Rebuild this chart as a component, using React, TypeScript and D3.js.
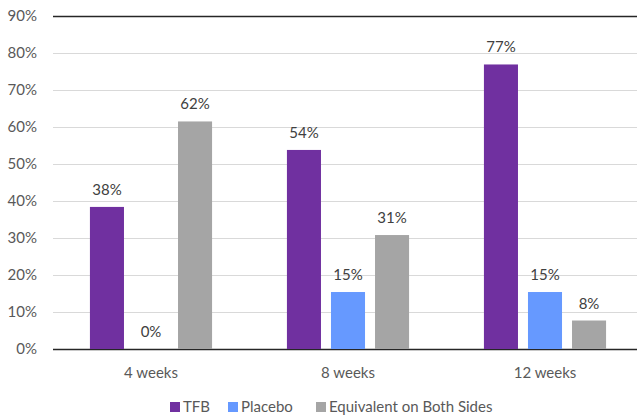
import React, { useEffect, useRef } from 'react';
import * as d3 from 'd3';

const categories = ['4 weeks', '8 weeks', '12 weeks'];
const seriesNames = ['TFB', 'Placebo', 'Equivalent on Both Sides'];
const seriesColors = ['#7030A0', '#6699FF', '#A5A5A5'];
const tfb = [38.4, 53.8, 76.9];
const placebo = [0, 15.4, 15.4];
const equivalent = [61.5, 30.8, 7.7];
const yTicks = [0, 10, 20, 30, 40, 50, 60, 70, 80, 90];

const W = 637;
const H = 418;
const FONT = 'Lato, "Open Sans", sans-serif';
const FS = 15;

const App: React.FC = () => {
  const svgRef = useRef<SVGSVGElement>(null);

  useEffect(() => {
    if (!svgRef.current) return;
    const svg = d3.select(svgRef.current);
    svg.selectAll('*').remove();

    const left = 52.5, right = 643.5, top = 16, bottom = 349;
    const series = [tfb, placebo, equivalent];

    const x0 = d3.scaleBand<string>().domain(categories).range([left, right]).paddingInner(0.38).paddingOuter(0.19);
    const x1 = d3.scaleBand<string>().domain(seriesNames).range([0, x0.bandwidth()]).paddingInner(0.227);
    const y = d3.scaleLinear().domain([0, 90]).range([bottom, top]);

    // grid
    svg.append('g')
      .selectAll('line')
      .data(yTicks)
      .join('line')
      .attr('x1', 53).attr('x2', W)
      .attr('y1', d => Math.round(y(d)) + 0.5).attr('y2', d => Math.round(y(d)) + 0.5)
      .attr('stroke', d => (d === 0 || d === 90) ? '#262626' : '#D9D9D9')
      .attr('stroke-width', d => (d === 0 || d === 90) ? 1.3 : 1);

    // y labels
    svg.append('g')
      .selectAll('text')
      .data(yTicks)
      .join('text')
      .attr('x', 37)
      .attr('y', d => y(d))
      .attr('dy', '0.35em')
      .attr('text-anchor', 'end')
      .attr('font-family', FONT)
      .attr('font-size', FS)
      .attr('fill', '#595959')
      .text(d => `${d}%`);

    // bars
    series.forEach((vals, si) => {
      const g = svg.append('g');
      g.selectAll('rect')
        .data(vals)
        .join('rect')
        .attr('x', (_, i) => x0(categories[i])! + x1(seriesNames[si])!)
        .attr('y', d => y(d))
        .attr('width', x1.bandwidth())
        .attr('height', d => y(0) - y(d))
        .attr('fill', seriesColors[si]);
      g.selectAll('text')
        .data(vals)
        .join('text')
        .attr('x', (_, i) => x0(categories[i])! + x1(seriesNames[si])! + x1.bandwidth() / 2)
        .attr('y', d => y(d) - 12)
        .attr('text-anchor', 'middle')
        .attr('font-family', FONT)
        .attr('font-size', FS)
        .attr('fill', '#404040')
        .text(d => `${Math.round(d)}%`);
    });

    // x labels
    svg.append('g')
      .selectAll('text')
      .data(categories)
      .join('text')
      .attr('x', d => x0(d)! + x0.bandwidth() / 2)
      .attr('y', 378)
      .attr('text-anchor', 'middle')
      .attr('font-family', FONT)
      .attr('font-size', FS)
      .attr('fill', '#595959')
      .text(d => d);

    // legend
    const legendX = [170, 228, 316];
    const lg = svg.append('g');
    seriesNames.forEach((name, i) => {
      lg.append('rect')
        .attr('x', legendX[i]).attr('y', 402)
        .attr('width', 10).attr('height', 10)
        .attr('fill', seriesColors[i]);
      lg.append('text')
        .attr('x', legendX[i] + 13).attr('y', 412)
        .attr('font-family', FONT)
        .attr('font-size', FS)
        .attr('fill', '#595959')
        .text(name);
    });
  }, []);

  return (
    <svg ref={svgRef} width={W} height={H} style={{ display: 'block', position: 'absolute', left: 0, top: 0, background: '#fff' }} />
  );
};

export default App;
